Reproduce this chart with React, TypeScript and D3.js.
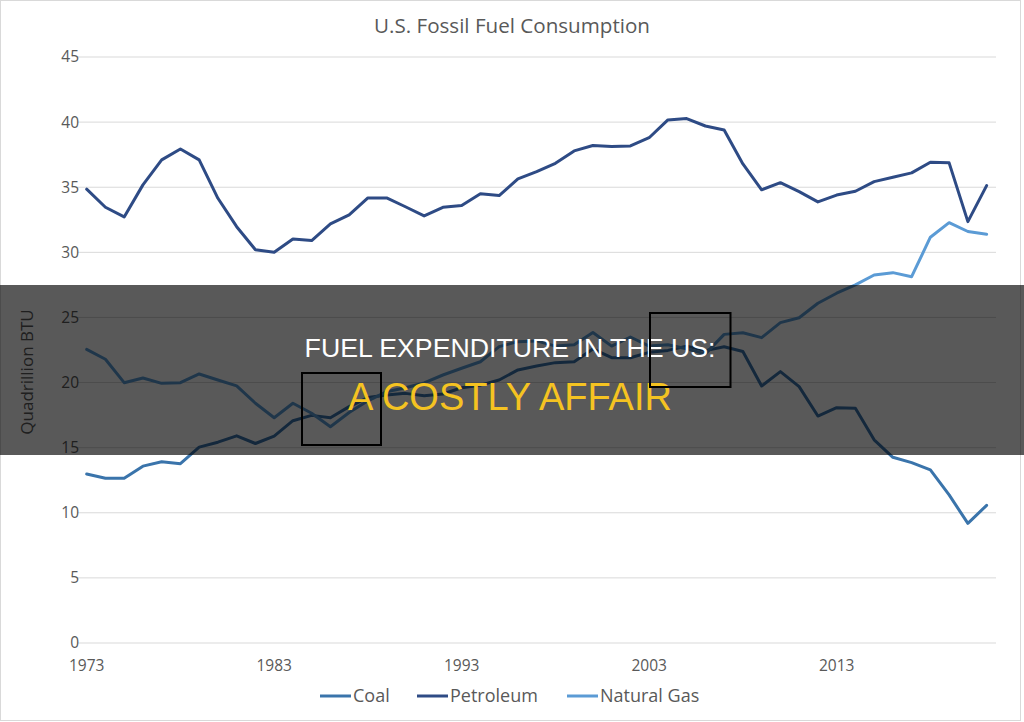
import * as d3 from "d3";
import { useEffect, useRef } from "react";

const years = d3.range(1973, 2022);

const coal = [
  12.98, 12.65, 12.65, 13.58, 13.92, 13.77, 15.04, 15.42, 15.91, 15.32,
  15.89, 17.07, 17.48, 17.3, 18.15, 18.85, 19.05, 19.17, 18.99, 19.12,
  19.6, 19.8, 20.2, 20.97, 21.27, 21.53, 21.6, 22.58, 21.91, 21.9,
  22.32, 22.47, 22.8, 22.45, 22.75, 22.39, 19.74, 20.84, 19.69, 17.43,
  18.07, 18.03, 15.6, 14.26, 13.85, 13.29, 11.37, 9.19, 10.57,
];

const petroleum = [
  34.85, 33.46, 32.72, 35.18, 37.1, 37.94, 37.1, 34.15, 31.97, 30.2,
  30.0, 31.03, 30.9, 32.18, 32.87, 34.18, 34.18, 33.5, 32.8, 33.46,
  33.6, 34.5, 34.36, 35.64, 36.2, 36.84, 37.79, 38.2, 38.12, 38.17,
  38.8, 40.17, 40.27, 39.7, 39.4, 36.79, 34.8, 35.35, 34.66, 33.87,
  34.4, 34.69, 35.43, 35.77, 36.1, 36.92, 36.87, 32.36, 35.12,
];

const naturalGas = [
  22.55, 21.79, 19.99, 20.35, 19.94, 19.99, 20.66, 20.2, 19.74, 18.41,
  17.3, 18.41, 17.64, 16.61, 17.7, 18.6, 19.3, 19.6, 19.97, 20.58,
  21.1, 21.6, 22.76, 23.14, 23.2, 22.8, 22.9, 23.85, 22.8, 23.5,
  22.8, 22.9, 22.6, 22.2, 23.7, 23.83, 23.45, 24.6, 24.98, 26.09,
  26.86, 27.5, 28.26, 28.44, 28.13, 31.16, 32.28, 31.6, 31.39,
];

const seriesNames = ["Coal", "Petroleum", "Natural Gas"];
const seriesColors = ["#3a74ab", "#2e4b85", "#5b9bd5"];
const yTicks = [0, 5, 10, 15, 20, 25, 30, 35, 40, 45];
const xTickYears = [1973, 1983, 1993, 2003, 2013];

const chartTitle = "U.S. Fossil Fuel Consumption";
const yLabel = "Quadrillion BTU";
const headline = "FUEL EXPENDITURE IN THE US:";
const subHeadline = "A COSTLY AFFAIR";

function FuelChart() {
  const svgRef = useRef(null);

  useEffect(() => {
    const svg = d3.select(svgRef.current);
    svg.selectAll("*").remove();

    const width = 1024;
    const height = 722;
    const plot = { left: 77.3, right: 996, top: 57, bottom: 643 };
    const font = "'Open Sans', sans-serif";
    const gray = "#595959";

    svg.attr("width", width).attr("height", height);

    svg.append("rect").attr("width", width).attr("height", height).attr("fill", "#fff");
    // frame
    svg
      .append("rect")
      .attr("x", 0.5)
      .attr("y", 0.5)
      .attr("width", 1020)
      .attr("height", 720)
      .attr("fill", "none")
      .attr("stroke", "#d9d9d9");

    const x = d3
      .scalePoint()
      .domain(years)
      .range([plot.left, plot.right])
      .padding(0.5);

    const y = d3.scaleLinear().domain([0, 45]).range([plot.bottom, plot.top]);

    // gridlines
    svg
      .append("g")
      .selectAll("line")
      .data(yTicks)
      .join("line")
      .attr("x1", plot.left)
      .attr("x2", plot.right)
      .attr("y1", d => y(d))
      .attr("y2", d => y(d))
      .attr("stroke", "#d9d9d9")
      .attr("stroke-width", 1);

    // y tick labels
    svg
      .append("g")
      .selectAll("text")
      .data(yTicks)
      .join("text")
      .attr("x", 79)
      .attr("y", d => y(d))
      .attr("dy", "0.35em")
      .attr("text-anchor", "end")
      .attr("fill", gray)
      .style("font-family", font)
      .style("font-size", "15.5px")
      .text(d => d);

    // x tick labels
    svg
      .append("g")
      .selectAll("text")
      .data(xTickYears)
      .join("text")
      .attr("x", d => x(d))
      .attr("y", 671)
      .attr("text-anchor", "middle")
      .attr("fill", gray)
      .style("font-family", font)
      .style("font-size", "15.5px")
      .text(d => d);

    // title
    svg
      .append("text")
      .attr("x", 512)
      .attr("y", 33)
      .attr("text-anchor", "middle")
      .attr("fill", gray)
      .style("font-family", font)
      .style("font-size", "20.6px")
      .text(chartTitle);

    // y label
    svg
      .append("text")
      .attr("transform", "rotate(-90)")
      .attr("x", -372)
      .attr("y", 33)
      .attr("text-anchor", "middle")
      .attr("fill", gray)
      .style("font-family", font)
      .style("font-size", "17px")
      .text(yLabel);

    // lines
    const allSeries = [coal, petroleum, naturalGas];
    const line = d3
      .line()
      .x((d, i) => x(years[i]))
      .y(d => y(d));

    svg
      .append("g")
      .selectAll("path")
      .data(allSeries)
      .join("path")
      .attr("d", d => line(d))
      .attr("fill", "none")
      .attr("stroke", (d, i) => seriesColors[i])
      .attr("stroke-width", 3)
      .attr("stroke-linejoin", "round")
      .attr("stroke-linecap", "round");

    // legend
    const legendX = [320, 417, 567];
    const legend = svg
      .append("g")
      .selectAll("g")
      .data(seriesNames)
      .join("g")
      .attr("transform", (d, i) => `translate(${legendX[i]}, 696)`);

    legend
      .append("line")
      .attr("x1", 0)
      .attr("x2", 31)
      .attr("stroke", (d, i) => seriesColors[i])
      .attr("stroke-width", 3);

    legend
      .append("text")
      .attr("x", 33)
      .attr("dy", "0.35em")
      .attr("fill", gray)
      .style("font-family", font)
      .style("font-size", "18px")
      .text(d => d);

    // dark banner over the chart
    svg
      .append("rect")
      .attr("x", 0)
      .attr("y", 285)
      .attr("width", width)
      .attr("height", 170)
      .attr("fill", "rgba(0,0,0,0.65)");

    svg
      .append("text")
      .attr("x", 510)
      .attr("y", 357)
      .attr("text-anchor", "middle")
      .attr("fill", "#ffffff")
      .style("font-family", "'Liberation Sans', Arial, sans-serif")
      .style("font-size", "26.7px")
      .text(headline);

    svg
      .append("text")
      .attr("x", 510)
      .attr("y", 410)
      .attr("text-anchor", "middle")
      .attr("fill", "#f5c321")
      .style("font-family", "'Liberation Sans', Arial, sans-serif")
      .style("font-size", "38px")
      .text(subHeadline);

    // highlight boxes
    const boxes = [
      { x: 302, y: 373, w: 79, h: 72 },
      { x: 650, y: 313, w: 80.5, h: 74 },
    ];
    svg
      .append("g")
      .selectAll("rect")
      .data(boxes)
      .join("rect")
      .attr("x", d => d.x)
      .attr("y", d => d.y)
      .attr("width", d => d.w)
      .attr("height", d => d.h)
      .attr("fill", "none")
      .attr("stroke", "#000")
      .attr("stroke-width", 2);
  }, []);

  return <svg ref={svgRef} style={{ position: "absolute", left: 0, top: 0 }} />;
}

export default function App() {
  return <FuelChart />;
}
